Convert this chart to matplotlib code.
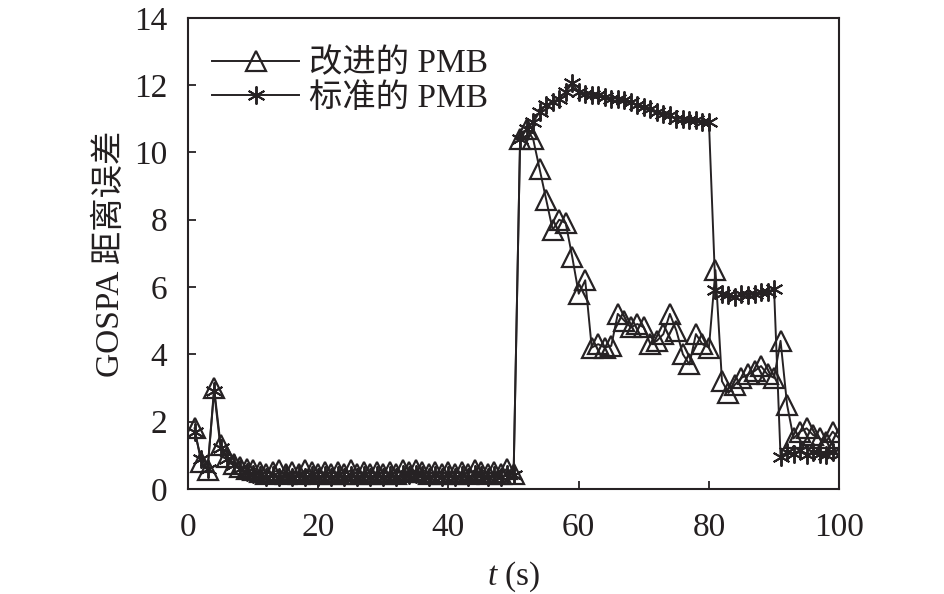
import numpy as np
import matplotlib
matplotlib.use("Agg")
import matplotlib.pyplot as plt

plt.rcParams["font.family"] = ["Liberation Serif", "Noto Sans CJK SC"]
plt.rcParams["mathtext.fontset"] = "custom"
plt.rcParams["mathtext.rm"] = "Liberation Serif"
plt.rcParams["mathtext.it"] = "Liberation Serif:italic"

# time steps (s)
t = np.arange(1, 101)

# improved PMB, GOSPA error
improved = [
    1.8, 0.8, 0.55, 3.0, 1.3, 0.95, 0.75, 0.65, 0.6, 0.55,
    0.5, 0.45, 0.5, 0.55, 0.45, 0.5, 0.45, 0.55, 0.5, 0.45,
    0.5, 0.45, 0.5, 0.45, 0.55, 0.45, 0.5, 0.45, 0.5, 0.45,
    0.5, 0.45, 0.55, 0.5, 0.55, 0.5, 0.45, 0.5, 0.45, 0.5,
    0.45, 0.5, 0.45, 0.55, 0.5, 0.45, 0.5, 0.45, 0.6, 0.45,
    10.4, 10.7, 10.4, 9.5, 8.6, 7.7, 8.0, 7.9, 6.9, 5.8,
    6.2, 4.2, 4.3, 4.2, 4.25, 5.2, 5.0, 4.8, 4.9, 4.8,
    4.3, 4.4, 4.6, 5.2, 4.7, 4.0, 3.7, 4.6, 4.3, 4.2,
    6.5, 3.2, 2.85, 3.1, 3.3, 3.4, 3.5, 3.65, 3.4, 3.3,
    4.4, 2.5, 1.5, 1.7, 1.8, 1.6, 1.5, 1.4, 1.7, 1.5,
]

# standard PMB, GOSPA error
standard = [
    1.7, 0.9, 0.6, 2.9, 1.2, 0.9, 0.7, 0.6, 0.5, 0.45,
    0.4, 0.35, 0.4, 0.35, 0.4, 0.35, 0.4, 0.35, 0.4, 0.35,
    0.4, 0.35, 0.4, 0.35, 0.4, 0.35, 0.4, 0.35, 0.4, 0.35,
    0.4, 0.35, 0.45, 0.4, 0.45, 0.4, 0.35, 0.4, 0.35, 0.4,
    0.35, 0.4, 0.35, 0.45, 0.4, 0.35, 0.4, 0.35, 0.45, 0.4,
    10.4, 10.7, 10.9, 11.2, 11.4, 11.5, 11.6, 11.8, 12.05, 11.8,
    11.75, 11.7, 11.7, 11.65, 11.6, 11.6, 11.55, 11.5, 11.4, 11.35,
    11.3, 11.2, 11.15, 11.1, 11.0, 11.0, 10.95, 10.95, 10.9, 10.9,
    5.9, 5.8, 5.75, 5.7, 5.8, 5.75, 5.8, 5.85, 5.85, 5.95,
    0.95, 1.1, 1.05, 1.15, 1.0, 1.1, 1.05, 1.0, 1.1, 1.0,
]

labels = ["改进的 PMB", "标准的 PMB"]
col = "#262224"

fig = plt.figure(figsize=(9.45, 5.94), dpi=100)
ax = fig.add_axes([0.199, 0.177, 0.689, 0.793])

ax.plot(t, improved, color=col, lw=1.4, marker="^", ms=15, mfc="none",
        mec=col, mew=1.6, label=labels[0])
ax.plot(t, standard, color=col, lw=1.4, marker=(6, 2, 0), ms=13,
        mec=col, mew=1.4, label=labels[1])

ax.set_xlim(0, 100)
ax.set_ylim(0, 14)
ax.set_xticks(np.arange(0, 101, 20))
ax.set_yticks(np.arange(0, 15, 2))
ax.tick_params(direction="in", labelsize=24, length=6, width=1.3,
               color=col, labelcolor="#231f20")
ax.tick_params(axis="x", pad=17)
ax.tick_params(axis="y", pad=15)
for s in ax.spines.values():
    s.set_linewidth(1.5)
    s.set_color(col)

ax.set_xlabel("$t$ (s)", fontsize=24, color="#231f20", labelpad=12)
ax.set_ylabel("GOSPA 距离误差", fontsize=24, color="#231f20", labelpad=6)

ax.legend(loc="upper left", bbox_to_anchor=(-0.014, 1.005), frameon=False,
          fontsize=24, handlelength=2.6, handletextpad=0.3,
          labelspacing=0.12, borderaxespad=0.6, labelcolor="#231f20")

fig.savefig("out.png", dpi=100)
